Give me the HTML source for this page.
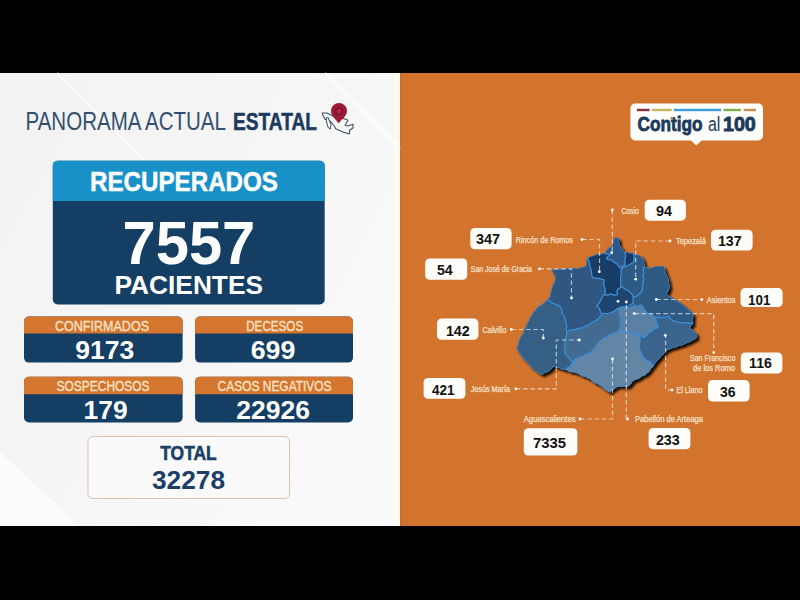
<!DOCTYPE html>
<html><head><meta charset="utf-8"><style>
html,body{margin:0;padding:0;background:#000;width:800px;height:600px;overflow:hidden}
svg{display:block}
text{font-family:"Liberation Sans", sans-serif}
</style></head><body>
<svg width="800" height="600" viewBox="0 0 800 600">
<defs>
<linearGradient id="lg" x1="0" y1="0" x2="1" y2="0.6"><stop offset="0" stop-color="#F2F2F3"/><stop offset="0.5" stop-color="#F5F5F6"/><stop offset="1" stop-color="#FAFAFB"/></linearGradient>
<filter id="blur" x="-10%" y="-10%" width="120%" height="120%"><feGaussianBlur stdDeviation="1.1"/></filter>
</defs>
<rect x="0" y="0" width="800" height="600" fill="#000"/>
<rect x="0" y="73" width="400" height="453" fill="url(#lg)"/>
<rect x="400" y="73" width="400" height="453" fill="#D3742E"/>
<rect x="395.5" y="73" width="4.5" height="453" fill="#FFF9F0"/>
<rect x="400" y="73" width="1.5" height="453" fill="#C56D33"/>
<polygon points="0,452 80,526 0,526" fill="#FCFCFD"/>
<g stroke="#ffffff" stroke-width="2" opacity="0.9"><line x1="57" y1="73" x2="260" y2="276"/><line x1="325" y1="73" x2="400" y2="148"/></g>
<line x1="59" y1="73" x2="262" y2="276" stroke="#E8E8EA" stroke-width="1" opacity="0.6"/>
<text x="25.5" y="130" font-size="25" textLength="200.5" lengthAdjust="spacingAndGlyphs" fill="#34506F">PANORAMA ACTUAL</text>
<text x="233" y="129.5" font-size="24" font-weight="bold" textLength="84" lengthAdjust="spacingAndGlyphs" fill="#1C3A5E" stroke="#1C3A5E" stroke-width="0.5">ESTATAL</text>
<path d="M322.3,113 L327,113 L331.7,115.3 L336,117 L344.3,118.7 L348,120.3 L346.3,123.3 L345,125.3 L347.7,126 L353,124.3 L353,128 L349.7,130 L349.3,134 L343,132 L335.7,128.7 L334.3,126 L330.3,121.3 L325,119.3 L322.7,114.7 Z" fill="#F4F6F8" stroke="#3E4E5E" stroke-width="1.1" stroke-linejoin="round"/>
<path d="M326.3,118 L328,117.3 L331,124.7 L330.3,129 L328,127.3 L326.3,120.7 Z" fill="#F4F6F8" stroke="#3E4E5E" stroke-width="1" stroke-linejoin="round"/>
<path d="M338.7,123.5 C336,119.5 331,116 331,111 A8,8 0 0 1 347,111 C347,116 341.5,119.5 338.7,123.5 Z" fill="#9E1B36"/>
<circle cx="339" cy="111" r="3.2" fill="#B4234A" stroke="#6E1626" stroke-width="1.3"/>
<rect x="52.8" y="160.8" width="271.9" height="143.7" rx="5" fill="#143E64"/>
<path d="M52.8,201 V165.8 A5,5 0 0 1 57.8,160.8 H319.7 A5,5 0 0 1 324.7,165.8 V201 Z" fill="#1890C8"/>
<text x="90" y="191.3" font-size="27.8" font-weight="bold" textLength="188" lengthAdjust="spacingAndGlyphs" fill="#fff" stroke="#fff" stroke-width="0.5">RECUPERADOS</text>
<text x="122.5" y="263.6" font-size="62" font-weight="bold" textLength="132.8" lengthAdjust="spacingAndGlyphs" fill="#fff">7557</text>
<text x="114.5" y="294" font-size="26.5" font-weight="bold" textLength="148.5" lengthAdjust="spacingAndGlyphs" fill="#fff">PACIENTES</text>
<rect x="24" y="316.6" width="158.6" height="46" rx="5" fill="#143E64"/>
<path d="M24,333.6 V321.6 A5,5 0 0 1 29,316.6 H177.6 A5,5 0 0 1 182.6,321.6 V333.6 Z" fill="#D5762E"/>
<text x="55" y="331.4" font-size="14" textLength="94" lengthAdjust="spacingAndGlyphs" fill="#F9E4CA" stroke="#F9E4CA" stroke-width="0.3">CONFIRMADOS</text>
<text x="75.3" y="359" font-size="26" font-weight="bold" textLength="59" lengthAdjust="spacingAndGlyphs" fill="#fff">9173</text>
<rect x="195.1" y="316.6" width="157.9" height="46" rx="5" fill="#143E64"/>
<path d="M195.1,333.6 V321.6 A5,5 0 0 1 200.1,316.6 H348.0 A5,5 0 0 1 353.0,321.6 V333.6 Z" fill="#D5762E"/>
<text x="246.2" y="331.4" font-size="14" textLength="57" lengthAdjust="spacingAndGlyphs" fill="#F9E4CA" stroke="#F9E4CA" stroke-width="0.3">DECESOS</text>
<text x="250.7" y="359" font-size="26" font-weight="bold" textLength="44.6" lengthAdjust="spacingAndGlyphs" fill="#fff">699</text>
<rect x="24" y="376.8" width="158.6" height="45.7" rx="5" fill="#143E64"/>
<path d="M24,394.2 V381.8 A5,5 0 0 1 29,376.8 H177.6 A5,5 0 0 1 182.6,381.8 V394.2 Z" fill="#D5762E"/>
<text x="56.6" y="391" font-size="14" textLength="93" lengthAdjust="spacingAndGlyphs" fill="#F9E4CA" stroke="#F9E4CA" stroke-width="0.3">SOSPECHOSOS</text>
<text x="83.6" y="419" font-size="26" font-weight="bold" textLength="44" lengthAdjust="spacingAndGlyphs" fill="#fff">179</text>
<rect x="195.1" y="376.8" width="157.9" height="45.7" rx="5" fill="#143E64"/>
<path d="M195.1,394.2 V381.8 A5,5 0 0 1 200.1,376.8 H348.0 A5,5 0 0 1 353.0,381.8 V394.2 Z" fill="#D5762E"/>
<text x="217.6" y="391" font-size="14" textLength="114" lengthAdjust="spacingAndGlyphs" fill="#F9E4CA" stroke="#F9E4CA" stroke-width="0.3">CASOS NEGATIVOS</text>
<text x="236.3" y="419" font-size="26" font-weight="bold" textLength="73.6" lengthAdjust="spacingAndGlyphs" fill="#fff">22926</text>
<rect x="88" y="436.5" width="201.5" height="62" rx="5" fill="#FAFAFB" stroke="#DCC3A5" stroke-width="1"/>
<text x="160.3" y="460.2" font-size="20" font-weight="bold" textLength="56.4" lengthAdjust="spacingAndGlyphs" fill="#1B3F66" stroke="#1B3F66" stroke-width="0.6">TOTAL</text>
<text x="152" y="488.8" font-size="26" font-weight="bold" textLength="73" lengthAdjust="spacingAndGlyphs" fill="#1B3F66">32278</text>
<path d="M635.4,103.4 H758 A5,5 0 0 1 763,108.4 V135.5 A5,5 0 0 1 758,140.5 H701.5 L696.3,145.5 L691.1,140.5 H635.4 A5,5 0 0 1 630.4,135.5 V108.4 A5,5 0 0 1 635.4,103.4 Z" fill="#FFFEFC"/>
<rect x="637" y="108.8" width="12.6" height="2.4" fill="#8E2E3E"/>
<rect x="652" y="108.8" width="19.6" height="2.4" fill="#C9B45E"/>
<rect x="674" y="108.8" width="47.0" height="2.4" fill="#3B9BD6"/>
<rect x="723.6" y="108.8" width="17.4" height="2.4" fill="#7DB04B"/>
<rect x="743.6" y="108.8" width="12.4" height="2.4" fill="#D08A5A"/>
<text x="637.6" y="131.2" font-size="20.5" font-weight="bold" textLength="65" lengthAdjust="spacingAndGlyphs" fill="#1B3A5C" stroke="#1B3A5C" stroke-width="0.8">Contigo</text>
<text x="708" y="131.2" font-size="20.5" textLength="12.4" lengthAdjust="spacingAndGlyphs" fill="#1B3A5C">al</text>
<text x="723" y="131.2" font-size="20.5" font-weight="bold" textLength="32.8" lengthAdjust="spacingAndGlyphs" fill="#1B3A5C" stroke="#1B3A5C" stroke-width="0.9">100</text>
<rect x="670.5" y="117" width="2.6" height="2.6" fill="#C98A5A"/>
<polygon points="554.3000000000001,271.8 557.1,272.23 559.84,271.65000000000003 562.6,271.3 565.38,271.61 568.1700000000001,270.87 570.95,270.71000000000004 573.73,271.23 576.52,270.74 579.3000000000001,271.3 582.3100000000001,270.27000000000004 585.45,269.62 588.4,268.40000000000003 588.9,265.3 589.21,262.5 590.3000000000001,259.90000000000003 593.66,259.1 596.9,257.90000000000003 599.45,256.74 602.26,256.95 604.87,256.08 607.6,255.9 608.9,252.6 611.95,250.32 614.9,247.9 615.83,244.65 616.3000000000001,241.29999999999998 618.9,239.29999999999998 621.6,241.29999999999998 621.88,244.60999999999999 622.3000000000001,247.9 624.26,249.98 625.44,252.68 627.6,254.6 631.6,255.29999999999998 636.3000000000001,255.9 639.9,257.40000000000003 643.6,258.6 646.3000000000001,262.6 646.94,265.95000000000005 647.6,269.3 651.6,270.6 654.32,270.23 656.9,269.3 659.87,268.73 662.9,268.74 665.9,268.40000000000003 667.46,271.31 668.26,274.5 669.3000000000001,277.6 670.5600000000001,280.24 671.63,282.93 671.8000000000001,285.90000000000003 672.45,289.25 671.8000000000001,292.6 669.3000000000001,296.8 672.49,299.02000000000004 675.9,300.90000000000003 678.0600000000001,303.08000000000004 680.96,304.16 683.5500000000001,305.70000000000005 685.9,307.6 688.34,309.75 690.85,311.81 693.12,314.16 695.9,315.90000000000003 696.19,319.23 695.3100000000001,322.57000000000005 695.9,325.90000000000003 694.02,328.25 692.6,330.90000000000003 695.1,332.21000000000004 696.91,334.44 699.3000000000001,335.90000000000003 699.3000000000001,340.90000000000003 696.86,342.28000000000003 694.37,343.54 691.95,344.95000000000005 689.3000000000001,345.90000000000003 686.72,347.12 684.14,348.36 681.21,348.57000000000005 678.73,350.09000000000003 675.9,350.6 672.9200000000001,351.48 670.13,352.78000000000003 667.6,354.6 666.36,357.04 663.95,358.55 662.6,360.90000000000003 660.5,362.66 658.82,364.76000000000005 657.21,366.91 655.9,369.3 653.62,371.24 652.33,374.09000000000003 649.9,375.90000000000003 647.48,378.07000000000005 644.27,379.05 641.9,381.3 638.52,382.39000000000004 635.3000000000001,383.90000000000003 633.98,386.33000000000004 632.0500000000001,388.21000000000004 629.9,389.90000000000003 626.84,389.14000000000004 623.69,389.61 620.6,389.3 617.7900000000001,391.1 615.01,392.96000000000004 612.6,395.3 609.58,393.65000000000003 606.9,391.53000000000003 604.3000000000001,389.3 602.0,387.73 599.51,386.47 596.8000000000001,385.59000000000003 594.63,383.79 592.6800000000001,381.64000000000004 589.86,380.94 587.6,379.3 584.9,379.06 582.61,377.61 580.3000000000001,376.20000000000005 577.73,375.57000000000005 575.19,374.83000000000004 572.44,374.75 570.22,373.09000000000003 567.6,372.6 564.6,372.03000000000003 561.7900000000001,370.8 558.87,369.96000000000004 555.9,369.3 553.65,372.05 550.9,374.3 547.4,375.54 544.3000000000001,377.6 541.98,376.05 539.58,374.6 537.6,372.6 534.9,370.83000000000004 532.75,368.52000000000004 530.9,365.90000000000003 528.61,363.79 526.23,361.77000000000004 524.3000000000001,359.3 522.94,356.84000000000003 521.4,354.51000000000005 519.3000000000001,352.6 519.72,349.56 521.01,346.77000000000004 521.24,343.67 522.6,340.90000000000003 523.65,338.3 525.71,336.21000000000004 526.44,333.44 527.6,330.90000000000003 529.2,328.37 529.7900000000001,325.33000000000004 531.75,322.99 532.71,320.14000000000004 534.3000000000001,317.6 535.84,314.56 538.52,312.32000000000005 540.1,309.3 543.26,308.04 545.9,305.90000000000003 549.6,302.6 552.6,299.3 552.76,296.42 553.66,293.69 554.3000000000001,290.90000000000003 555.15,287.83000000000004 556.8000000000001,285.1 557.5,282.17 558.4,279.3 556.47,277.11 555.2900000000001,274.5" fill="#1a0e06" opacity="1" filter="url(#blur)"/>
<clipPath id="mapclip"><polygon points="551.7,269.2 554.5,269.63 557.24,269.05 560,268.7 562.78,269.01 565.57,268.27 568.35,268.11 571.13,268.63 573.92,268.14 576.7,268.7 579.71,267.67 582.85,267.02 585.8,265.8 586.3,262.7 586.61,259.9 587.7,257.3 591.06,256.5 594.3,255.3 596.85,254.14 599.66,254.35 602.27,253.48 605,253.3 606.3,250 609.35,247.72 612.3,245.3 613.23,242.05 613.7,238.7 616.3,236.7 619,238.7 619.28,242.01 619.7,245.3 621.66,247.38 622.84,250.08 625,252 629,252.7 633.7,253.3 637.3,254.8 641,256 643.7,260 644.34,263.35 645,266.7 649,268 651.72,267.63 654.3,266.7 657.27,266.13 660.3,266.14 663.3,265.8 664.86,268.71 665.66,271.9 666.7,275 667.96,277.64 669.03,280.33 669.2,283.3 669.85,286.65 669.2,290 666.7,294.2 669.89,296.42 673.3,298.3 675.46,300.48 678.36,301.56 680.95,303.1 683.3,305 685.74,307.15 688.25,309.21 690.52,311.56 693.3,313.3 693.59,316.63 692.71,319.97 693.3,323.3 691.42,325.65 690,328.3 692.5,329.61 694.31,331.84 696.7,333.3 696.7,338.3 694.26,339.68 691.77,340.94 689.35,342.35 686.7,343.3 684.12,344.52 681.54,345.76 678.61,345.97 676.13,347.49 673.3,348 670.32,348.88 667.53,350.18 665,352 663.76,354.44 661.35,355.95 660,358.3 657.9,360.06 656.22,362.16 654.61,364.31 653.3,366.7 651.02,368.64 649.73,371.49 647.3,373.3 644.88,375.47 641.67,376.45 639.3,378.7 635.92,379.79 632.7,381.3 631.38,383.73 629.45,385.61 627.3,387.3 624.24,386.54 621.09,387.01 618,386.7 615.19,388.5 612.41,390.36 610,392.7 606.98,391.05 604.3,388.93 601.7,386.7 599.4,385.13 596.91,383.87 594.2,382.99 592.03,381.19 590.08,379.04 587.26,378.34 585,376.7 582.3,376.46 580.01,375.01 577.7,373.6 575.13,372.97 572.59,372.23 569.84,372.15 567.62,370.49 565,370 562.0,369.43 559.19,368.2 556.27,367.36 553.3,366.7 551.05,369.45 548.3,371.7 544.8,372.94 541.7,375 539.38,373.45 536.98,372.0 535,370 532.3,368.23 530.15,365.92 528.3,363.3 526.01,361.19 523.63,359.17 521.7,356.7 520.34,354.24 518.8,351.91 516.7,350 517.12,346.96 518.41,344.17 518.64,341.07 520,338.3 521.05,335.7 523.11,333.61 523.84,330.84 525,328.3 526.6,325.77 527.19,322.73 529.15,320.39 530.11,317.54 531.7,315 533.24,311.96 535.92,309.72 537.5,306.7 540.66,305.44 543.3,303.3 547,300 550,296.7 550.16,293.82 551.06,291.09 551.7,288.3 552.55,285.23 554.2,282.5 554.9,279.57 555.8,276.7 553.87,274.51 552.69,271.9"/></clipPath>
<polygon points="551.7,269.2 554.5,269.63 557.24,269.05 560,268.7 562.78,269.01 565.57,268.27 568.35,268.11 571.13,268.63 573.92,268.14 576.7,268.7 579.71,267.67 582.85,267.02 585.8,265.8 586.3,262.7 586.61,259.9 587.7,257.3 591.06,256.5 594.3,255.3 596.85,254.14 599.66,254.35 602.27,253.48 605,253.3 606.3,250 609.35,247.72 612.3,245.3 613.23,242.05 613.7,238.7 616.3,236.7 619,238.7 619.28,242.01 619.7,245.3 621.66,247.38 622.84,250.08 625,252 629,252.7 633.7,253.3 637.3,254.8 641,256 643.7,260 644.34,263.35 645,266.7 649,268 651.72,267.63 654.3,266.7 657.27,266.13 660.3,266.14 663.3,265.8 664.86,268.71 665.66,271.9 666.7,275 667.96,277.64 669.03,280.33 669.2,283.3 669.85,286.65 669.2,290 666.7,294.2 669.89,296.42 673.3,298.3 675.46,300.48 678.36,301.56 680.95,303.1 683.3,305 685.74,307.15 688.25,309.21 690.52,311.56 693.3,313.3 693.59,316.63 692.71,319.97 693.3,323.3 691.42,325.65 690,328.3 692.5,329.61 694.31,331.84 696.7,333.3 696.7,338.3 694.26,339.68 691.77,340.94 689.35,342.35 686.7,343.3 684.12,344.52 681.54,345.76 678.61,345.97 676.13,347.49 673.3,348 670.32,348.88 667.53,350.18 665,352 663.76,354.44 661.35,355.95 660,358.3 657.9,360.06 656.22,362.16 654.61,364.31 653.3,366.7 651.02,368.64 649.73,371.49 647.3,373.3 644.88,375.47 641.67,376.45 639.3,378.7 635.92,379.79 632.7,381.3 631.38,383.73 629.45,385.61 627.3,387.3 624.24,386.54 621.09,387.01 618,386.7 615.19,388.5 612.41,390.36 610,392.7 606.98,391.05 604.3,388.93 601.7,386.7 599.4,385.13 596.91,383.87 594.2,382.99 592.03,381.19 590.08,379.04 587.26,378.34 585,376.7 582.3,376.46 580.01,375.01 577.7,373.6 575.13,372.97 572.59,372.23 569.84,372.15 567.62,370.49 565,370 562.0,369.43 559.19,368.2 556.27,367.36 553.3,366.7 551.05,369.45 548.3,371.7 544.8,372.94 541.7,375 539.38,373.45 536.98,372.0 535,370 532.3,368.23 530.15,365.92 528.3,363.3 526.01,361.19 523.63,359.17 521.7,356.7 520.34,354.24 518.8,351.91 516.7,350 517.12,346.96 518.41,344.17 518.64,341.07 520,338.3 521.05,335.7 523.11,333.61 523.84,330.84 525,328.3 526.6,325.77 527.19,322.73 529.15,320.39 530.11,317.54 531.7,315 533.24,311.96 535.92,309.72 537.5,306.7 540.66,305.44 543.3,303.3 547,300 550,296.7 550.16,293.82 551.06,291.09 551.7,288.3 552.55,285.23 554.2,282.5 554.9,279.57 555.8,276.7 553.87,274.51 552.69,271.9" fill="#2C5985"/>
<g clip-path="url(#mapclip)">
<polygon points="613.7,238.7 616.3,236.7 619,238.7 619.28,242.01 619.7,245.3 621.66,247.38 622.84,250.08 625,252 625.7,256 624.92,259.06 625.17,262.2 625,265.3 622.21,266.38 619.7,268 617,264 614.07,262.37 611.7,260 608.87,259.88 606.3,258.7 608.02,256.42 610.3,254.7 607.63,254.06 605,253.3 606.3,250 609.35,247.72 612.3,245.3 613.23,242.05" fill="#2C5987" stroke="#3D8BD2" stroke-width="1.2" stroke-linejoin="round"/>
<polygon points="587.7,257.3 591.06,256.5 594.3,255.3 596.85,254.14 599.66,254.35 602.27,253.48 605,253.3 607.63,254.06 610.3,254.7 608.02,256.42 606.3,258.7 608.87,259.88 611.7,260 614.07,262.37 617,264 619.7,268 622.21,266.38 625,265.3 625.17,262.2 624.92,259.06 625.7,256 625,252 629,252.7 633.7,253.3 634.27,256.08 634.21,258.89 634.2,261.7 631.82,263.34 629.47,265.03 626.7,266 623.47,267.46 621,270 621.42,273.35 620.56,276.66 620.7,280 620.6,283.39 621.3,286.7 617.3,290 617.3,294.7 614.15,295.32 611.0,294.03 607.85,295.18 604.7,294.7 604.81,291.75 605.11,288.79 603.81,285.9 603.58,282.97 604,280 601.7,279.2 598.6,278.43 595.4,278.24 592.3,277.5 591.5,274.36 591.39,271.08 590.3,268 589.63,265.33 589.54,262.52 587.93,260.08" fill="#173C66" stroke="#3D8BD2" stroke-width="1.2" stroke-linejoin="round"/>
<polygon points="633.7,253.3 637.3,254.8 641,256 643.7,260 644.34,263.35 645,266.7 643.3,268.3 643.54,270.98 643.62,273.66 642.84,276.34 643.92,279.02 643.3,281.7 642.68,285.02 642.58,288.42 641.7,291.7 638.3,295 635.92,296.5 633.3,297.5 632.18,294.86 630.47,292.66 628.3,290.8 625.79,289.74 623.71,287.93 621.3,286.7 620.6,283.39 620.7,280 620.56,276.66 621.42,273.35 621,270 623.47,267.46 626.7,266 629.47,265.03 631.82,263.34 634.2,261.7 634.21,258.89 634.27,256.08" fill="#2E5A86" stroke="#3D8BD2" stroke-width="1.2" stroke-linejoin="round"/>
<polygon points="645,266.7 649,268 651.72,267.63 654.3,266.7 657.27,266.13 660.3,266.14 663.3,265.8 664.86,268.71 665.66,271.9 666.7,275 667.96,277.64 669.03,280.33 669.2,283.3 669.85,286.65 669.2,290 666.7,294.2 669.89,296.42 673.3,298.3 675.46,300.48 678.36,301.56 680.95,303.1 683.3,305 685.74,307.15 688.25,309.21 690.52,311.56 693.3,313.3 693.59,316.63 692.71,319.97 693.3,323.3 689.9,323.43 686.51,322.7 683.1,323.1 679.7,322.53 676.33,321.82 673,320.9 670.31,319.09 668.5,316.4 665.83,317.01 663.13,317.25 660.44,317.59 657.69,317.21 655,317.5 652.99,315.71 650.84,314.15 648.15,313.46 646,311.9 644.5,309.6 643.05,307.27 641.5,305 638.13,305.78 634.7,306.2 633.3,303.3 632.72,300.4 633.3,297.5 635.92,296.5 638.3,295 641.7,291.7 642.58,288.42 642.68,285.02 643.3,281.7 643.92,279.02 642.84,276.34 643.62,273.66 643.54,270.98 643.3,268.3" fill="#2F5A84" stroke="#3D8BD2" stroke-width="1.2" stroke-linejoin="round"/>
<polygon points="604.7,294.7 607.85,295.18 611.0,294.03 614.15,295.32 617.3,294.7 617.3,290 621.3,286.7 623.71,287.93 625.79,289.74 628.3,290.8 630.47,292.66 632.18,294.86 633.3,297.5 632.72,300.4 633.3,303.3 630.0,304.67 627.3,307 624.14,307.01 621.01,307.22 618,308.3 615.56,310.25 612.92,311.86 610,313 607.4,313.83 604.62,313.26 602,314 600.27,311.21 599.05,308.09 596.7,305.7 598.82,303.31 600.48,300.64 601.83,297.79 603.3,295" fill="#1E4570" stroke="#3D8BD2" stroke-width="1.2" stroke-linejoin="round"/>
<polygon points="551.7,269.2 554.5,269.63 557.24,269.05 560,268.7 562.78,269.01 565.57,268.27 568.35,268.11 571.13,268.63 573.92,268.14 576.7,268.7 579.71,267.67 582.85,267.02 585.8,265.8 586.3,262.7 586.61,259.9 587.7,257.3 587.93,260.08 589.54,262.52 589.63,265.33 590.3,268 591.39,271.08 591.5,274.36 592.3,277.5 595.4,278.24 598.6,278.43 601.7,279.2 604,280 603.58,282.97 603.81,285.9 605.11,288.79 604.81,291.75 604.7,294.7 603.3,295 601.83,297.79 600.48,300.64 598.82,303.31 596.7,305.7 599.05,308.09 600.27,311.21 602,314 600.45,316.19 598.76,318.26 596.7,320 594.38,321.19 592.18,322.57 590,324 587.28,325.52 584.43,326.79 581.7,328.3 578.68,328.33 575.83,329.3 572.91,329.88 570,330.5 566.7,331.7 566.0,328.94 566.74,326.03 565.8,323.3 565.27,320.44 564.74,317.58 563.3,315 561.58,312.48 561.64,309.25 560,306.7 557.53,305.1 554.83,303.96 551.94,303.18 549.85,300.85 547,300 550,296.7 550.16,293.82 551.06,291.09 551.7,288.3 552.55,285.23 554.2,282.5 554.9,279.57 555.8,276.7 553.87,274.51 552.69,271.9" fill="#2F5782" stroke="#3D8BD2" stroke-width="1.2" stroke-linejoin="round"/>
<polygon points="547,300 549.85,300.85 551.94,303.18 554.83,303.96 557.53,305.1 560,306.7 561.64,309.25 561.58,312.48 563.3,315 564.74,317.58 565.27,320.44 565.8,323.3 566.74,326.03 566.0,328.94 566.7,331.7 566.63,335.12 565.83,338.41 565,341.7 564.94,344.6 564.33,347.5 565.42,350.4 565,353.3 566.86,355.61 568.92,357.73 570.73,360.09 573.3,361.7 571.47,364.08 570,366.7 567.28,368.02 565,370 562.0,369.43 559.19,368.2 556.27,367.36 553.3,366.7 551.05,369.45 548.3,371.7 544.8,372.94 541.7,375 539.38,373.45 536.98,372.0 535,370 532.3,368.23 530.15,365.92 528.3,363.3 526.01,361.19 523.63,359.17 521.7,356.7 520.34,354.24 518.8,351.91 516.7,350 517.12,346.96 518.41,344.17 518.64,341.07 520,338.3 521.05,335.7 523.11,333.61 523.84,330.84 525,328.3 526.6,325.77 527.19,322.73 529.15,320.39 530.11,317.54 531.7,315 533.24,311.96 535.92,309.72 537.5,306.7 540.66,305.44 543.3,303.3" fill="#365F86" stroke="#3D8BD2" stroke-width="1.2" stroke-linejoin="round"/>
<polygon points="566.7,331.7 570,330.5 572.91,329.88 575.83,329.3 578.68,328.33 581.7,328.3 584.43,326.79 587.28,325.52 590,324 592.18,322.57 594.38,321.19 596.7,320 598.76,318.26 600.45,316.19 602,314 604.62,313.26 607.4,313.83 610,313 612.92,311.86 615.56,310.25 618,308.3 619.3,312.3 619.98,315.4 620.81,318.48 620.7,321.7 620.82,324.89 619.78,327.9 619.3,331 616.73,332.22 614.22,333.58 611.55,334.54 608.7,335 606.74,337.23 603.77,338.03 601.53,339.86 599.3,341.7 598.06,344.09 596.07,345.92 594.73,348.23 592.7,350.03 591.3,352.3 588.49,353.35 585.66,354.36 583.3,356.3 580.09,357.38 576.84,358.37 574,360.3 573.3,361.7 570.73,360.09 568.92,357.73 566.86,355.61 565,353.3 565.42,350.4 564.33,347.5 564.94,344.6 565,341.7 565.83,338.41 566.63,335.12" fill="#436A90" stroke="#3D8BD2" stroke-width="1.2" stroke-linejoin="round"/>
<polygon points="618,308.3 621.01,307.22 624.14,307.01 627.3,307 631.04,306.93 634.7,306.2 638.13,305.78 641.5,305 643.05,307.27 644.5,309.6 646,311.9 648.15,313.46 650.84,314.15 652.99,315.71 655,317.5 655.97,320.56 657.0,323.6 658.4,326.5 656.35,328.23 653.79,329.12 651.94,331.17 649.4,332.1 647.67,334.14 645.79,336.03 643.7,337.7 640.5,335 637.73,335.12 635.27,333.64 632.53,333.59 629.93,332.86 627.34,332.01 624.67,331.64 622.02,331.15 619.3,331 619.78,327.9 620.82,324.89 620.7,321.7 620.81,318.48 619.98,315.4 619.3,312.3" fill="#5B80A5" stroke="#3D8BD2" stroke-width="1.2" stroke-linejoin="round"/>
<polygon points="668.5,316.4 670.31,319.09 673,320.9 676.33,321.82 679.7,322.53 683.1,323.1 686.51,322.7 689.9,323.43 693.3,323.3 691.42,325.65 690,328.3 692.5,329.61 694.31,331.84 696.7,333.3 696.7,338.3 694.26,339.68 691.77,340.94 689.35,342.35 686.7,343.3 684.12,344.52 681.54,345.76 678.61,345.97 676.13,347.49 673.3,348 670.32,348.88 667.53,350.18 665,352 663.76,354.44 661.35,355.95 660,358.3 657.9,360.06 656.22,362.16 654.61,364.31 653.3,366.7 651.93,364.02 650,361.7 647.15,360.74 644.7,359 642.88,356.56 641.45,353.93 640.22,351.19 639.3,348.3 639.57,345.64 639.42,342.95 640.12,340.33 639.64,337.6 640.5,335 643.7,337.7 645.79,336.03 647.67,334.14 649.4,332.1 651.94,331.17 653.79,329.12 656.35,328.23 658.4,326.5 657.0,323.6 655.97,320.56 655,317.5 657.69,317.21 660.44,317.59 663.13,317.25 665.83,317.01" fill="#3A648E" stroke="#3D8BD2" stroke-width="1.2" stroke-linejoin="round"/>
<polygon points="573.3,361.7 574,360.3 576.84,358.37 580.09,357.38 583.3,356.3 585.66,354.36 588.49,353.35 591.3,352.3 592.7,350.03 594.73,348.23 596.07,345.92 598.06,344.09 599.3,341.7 601.53,339.86 603.77,338.03 606.74,337.23 608.7,335 611.55,334.54 614.22,333.58 616.73,332.22 619.3,331 622.02,331.15 624.67,331.64 627.34,332.01 629.93,332.86 632.53,333.59 635.27,333.64 637.73,335.12 640.5,335 639.64,337.6 640.12,340.33 639.42,342.95 639.57,345.64 639.3,348.3 640.22,351.19 641.45,353.93 642.88,356.56 644.7,359 647.15,360.74 650,361.7 651.93,364.02 653.3,366.7 651.02,368.64 649.73,371.49 647.3,373.3 644.88,375.47 641.67,376.45 639.3,378.7 635.92,379.79 632.7,381.3 631.38,383.73 629.45,385.61 627.3,387.3 624.24,386.54 621.09,387.01 618,386.7 615.19,388.5 612.41,390.36 610,392.7 606.98,391.05 604.3,388.93 601.7,386.7 599.4,385.13 596.91,383.87 594.2,382.99 592.03,381.19 590.08,379.04 587.26,378.34 585,376.7 582.3,376.46 580.01,375.01 577.7,373.6 575.13,372.97 572.59,372.23 569.84,372.15 567.62,370.49 565,370 567.28,368.02 570,366.7 571.47,364.08" fill="#6386A7" stroke="#3D8BD2" stroke-width="1.2" stroke-linejoin="round"/>
</g>
<path d="M612.3,210 V252.7" fill="none" stroke="#FFFFFF" stroke-width="1.2" stroke-dasharray="4.5,2.8" opacity="0.62"/>
<path d="M670,241 H635.7 V279.2" fill="none" stroke="#FFFFFF" stroke-width="1.2" stroke-dasharray="4.5,2.8" opacity="0.62"/>
<path d="M582,239.5 H599.5 V271" fill="none" stroke="#FFFFFF" stroke-width="1.2" stroke-dasharray="4.5,2.8" opacity="0.62"/>
<path d="M539.5,268.8 H571.5 V298" fill="none" stroke="#FFFFFF" stroke-width="1.2" stroke-dasharray="4.5,2.8" opacity="0.62"/>
<path d="M511.3,329.5 H543.3 V338" fill="none" stroke="#FFFFFF" stroke-width="1.2" stroke-dasharray="4.5,2.8" opacity="0.62"/>
<path d="M515.8,388.8 H556.3 V340 H579.3" fill="none" stroke="#FFFFFF" stroke-width="1.2" stroke-dasharray="4.5,2.8" opacity="0.62"/>
<path d="M580,419 H612.5 V359" fill="none" stroke="#FFFFFF" stroke-width="1.2" stroke-dasharray="4.5,2.8" opacity="0.62"/>
<path d="M626.3,419 V302" fill="none" stroke="#FFFFFF" stroke-width="1.2" stroke-dasharray="4.5,2.8" opacity="0.62"/>
<path d="M656.3,299.5 H701.8" fill="none" stroke="#FFFFFF" stroke-width="1.2" stroke-dasharray="4.5,2.8" opacity="0.62"/>
<path d="M634.2,313.6 H713.7 V352.6" fill="none" stroke="#FFFFFF" stroke-width="1.2" stroke-dasharray="4.5,2.8" opacity="0.62"/>
<path d="M672,390 H665.6 V335.3" fill="none" stroke="#FFFFFF" stroke-width="1.2" stroke-dasharray="4.5,2.8" opacity="0.62"/>
<circle cx="612.3" cy="210" r="1.4" fill="#fff"/>
<circle cx="670" cy="241" r="1.4" fill="#fff"/>
<circle cx="582" cy="239.5" r="1.4" fill="#fff"/>
<circle cx="539.5" cy="268.8" r="1.4" fill="#fff"/>
<circle cx="511.3" cy="329.5" r="1.4" fill="#fff"/>
<circle cx="515.8" cy="388.8" r="1.4" fill="#fff"/>
<circle cx="580" cy="419" r="1.4" fill="#fff"/>
<circle cx="627.5" cy="419" r="1.4" fill="#fff"/>
<circle cx="701.8" cy="299.5" r="1.4" fill="#fff"/>
<circle cx="713.7" cy="352.6" r="1.4" fill="#fff"/>
<circle cx="672" cy="390" r="1.4" fill="#fff"/>
<circle cx="599.3" cy="271.7" r="1.4" fill="#fff"/>
<circle cx="635.7" cy="279.2" r="1.4" fill="#fff"/>
<circle cx="571.5" cy="298" r="1.4" fill="#fff"/>
<circle cx="543.3" cy="338" r="1.4" fill="#fff"/>
<circle cx="579.3" cy="340" r="1.4" fill="#fff"/>
<circle cx="612.5" cy="359" r="1.4" fill="#fff"/>
<circle cx="626.3" cy="302" r="1.4" fill="#fff"/>
<circle cx="618" cy="301.3" r="1.4" fill="#fff"/>
<circle cx="656.3" cy="299.5" r="1.4" fill="#fff"/>
<circle cx="634.2" cy="313.6" r="1.4" fill="#fff"/>
<circle cx="665.3" cy="335.3" r="1.4" fill="#fff"/>
<circle cx="611.7" cy="252.7" r="1.4" fill="#fff"/>
<rect x="644.7" y="199.75" width="41.2" height="20.9" rx="4.5" fill="#FFFDFA"/>
<text x="655.9" y="216" font-size="15.4" font-weight="bold" textLength="16.0" lengthAdjust="spacingAndGlyphs" fill="#111">94</text>
<rect x="711" y="229.7" width="41.6" height="20.9" rx="4.5" fill="#FFFDFA"/>
<text x="717.9" y="246.25" font-size="15.4" font-weight="bold" textLength="23.7" lengthAdjust="spacingAndGlyphs" fill="#111">137</text>
<rect x="470.3" y="228" width="41.3" height="21.2" rx="4.5" fill="#FFFDFA"/>
<text x="475.9" y="243.9" font-size="15.4" font-weight="bold" textLength="24.1" lengthAdjust="spacingAndGlyphs" fill="#111">347</text>
<rect x="425.2" y="258.5" width="42.0" height="21.3" rx="4.5" fill="#FFFDFA"/>
<text x="436.9" y="274.6" font-size="15.4" font-weight="bold" textLength="15.8" lengthAdjust="spacingAndGlyphs" fill="#111">54</text>
<rect x="437" y="318.6" width="41.4" height="21.2" rx="4.5" fill="#FFFDFA"/>
<text x="445.9" y="335.9" font-size="15.4" font-weight="bold" textLength="23.9" lengthAdjust="spacingAndGlyphs" fill="#111">142</text>
<rect x="423.6" y="378" width="41.8" height="20.8" rx="4.5" fill="#FFFDFA"/>
<text x="431.9" y="394.9" font-size="15.4" font-weight="bold" textLength="22.5" lengthAdjust="spacingAndGlyphs" fill="#111">421</text>
<rect x="523.8" y="428.2" width="53.6" height="27.4" rx="4.5" fill="#FFFDFA"/>
<text x="532.9" y="448" font-size="15.4" font-weight="bold" textLength="33.0" lengthAdjust="spacingAndGlyphs" fill="#111">7335</text>
<rect x="648.6" y="428" width="41.8" height="21.2" rx="4.5" fill="#FFFDFA"/>
<text x="655.9" y="444.5" font-size="15.4" font-weight="bold" textLength="23.9" lengthAdjust="spacingAndGlyphs" fill="#111">233</text>
<rect x="740.5" y="288.1" width="42.1" height="19.0" rx="4.5" fill="#FFFDFA"/>
<text x="748.1" y="305" font-size="15.4" font-weight="bold" textLength="22.4" lengthAdjust="spacingAndGlyphs" fill="#111">101</text>
<rect x="740.8" y="352.5" width="41.6" height="20.9" rx="4.5" fill="#FFFDFA"/>
<text x="749.1" y="368.3" font-size="15.4" font-weight="bold" textLength="22.7" lengthAdjust="spacingAndGlyphs" fill="#111">116</text>
<rect x="708" y="380.1" width="41.6" height="21.5" rx="4.5" fill="#FFFDFA"/>
<text x="719.9" y="396.9" font-size="15.4" font-weight="bold" textLength="15.6" lengthAdjust="spacingAndGlyphs" fill="#111">36</text>
<text x="621.4" y="213.79999999999998" font-size="8.8" textLength="17.3" lengthAdjust="spacingAndGlyphs" fill="#F8E3CC" stroke="#F8E3CC" stroke-width="0.25">Cosio</text>
<text x="676" y="244.1" font-size="8.8" textLength="29.8" lengthAdjust="spacingAndGlyphs" fill="#F8E3CC" stroke="#F8E3CC" stroke-width="0.25">Tepezalá</text>
<text x="515.75" y="242.6" font-size="8.8" textLength="57.2" lengthAdjust="spacingAndGlyphs" fill="#F8E3CC" stroke="#F8E3CC" stroke-width="0.25">Rincón de Romos</text>
<text x="470.75" y="271.85" font-size="8.8" textLength="61.2" lengthAdjust="spacingAndGlyphs" fill="#F8E3CC" stroke="#F8E3CC" stroke-width="0.25">San José de Gracia</text>
<text x="482.5" y="332.6" font-size="8.8" textLength="23.8" lengthAdjust="spacingAndGlyphs" fill="#F8E3CC" stroke="#F8E3CC" stroke-width="0.25">Calvillo</text>
<text x="470.75" y="391.85" font-size="8.8" textLength="39.2" lengthAdjust="spacingAndGlyphs" fill="#F8E3CC" stroke="#F8E3CC" stroke-width="0.25">Jesús María</text>
<text x="523.75" y="422.35" font-size="8.8" textLength="51.8" lengthAdjust="spacingAndGlyphs" fill="#F8E3CC" stroke="#F8E3CC" stroke-width="0.25">Aguascalientes</text>
<text x="635" y="422.35" font-size="8.8" textLength="68.0" lengthAdjust="spacingAndGlyphs" fill="#F8E3CC" stroke="#F8E3CC" stroke-width="0.25">Pabellón de Arteaga</text>
<text x="706.8" y="302.6" font-size="8.8" textLength="28.6" lengthAdjust="spacingAndGlyphs" fill="#F8E3CC" stroke="#F8E3CC" stroke-width="0.25">Asientos</text>
<text x="689.9" y="361.1" font-size="8.8" textLength="45.5" lengthAdjust="spacingAndGlyphs" fill="#F8E3CC" stroke="#F8E3CC" stroke-width="0.25">San Francisco</text>
<text x="693" y="370.90000000000003" font-size="8.8" textLength="42.0" lengthAdjust="spacingAndGlyphs" fill="#F8E3CC" stroke="#F8E3CC" stroke-width="0.25">de los Romo</text>
<text x="676.4" y="393.1" font-size="8.8" textLength="26.0" lengthAdjust="spacingAndGlyphs" fill="#F8E3CC" stroke="#F8E3CC" stroke-width="0.25">El Llano</text>
</svg>
</body></html>
